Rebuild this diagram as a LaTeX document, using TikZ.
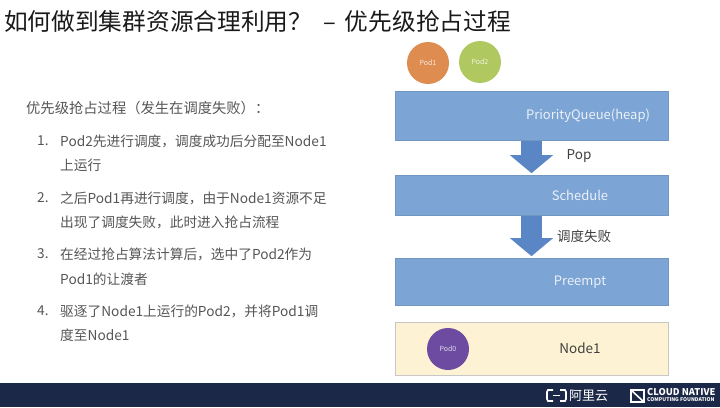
\documentclass[tikz,border=0pt]{standalone}
\usepackage{fontspec}
\setmainfont{Noto Sans CJK SC}
\usetikzlibrary{arrows.meta}
\definecolor{barblue}{HTML}{7CA4D4}
\definecolor{arrowblue}{HTML}{5B86C6}
\definecolor{podorange}{HTML}{DE8C4F}
\definecolor{podgreen}{HTML}{B0C860}
\definecolor{podpurple}{HTML}{6C4BA0}
\definecolor{nodecream}{HTML}{FDF2D3}
\definecolor{footnavy}{HTML}{1B2847}
\definecolor{bodygray}{HTML}{555555}
\tikzset{
    bar/.style={rectangle, draw=barblue!92!black, fill=barblue, line width=0.6pt, minimum width=273pt, inner sep=0pt},
    barlabel/.style={text=white!85!barblue, font=\fontsize{13}{13}\selectfont},
    pod/.style={circle, minimum size=42pt, inner sep=0pt, text=white!80!#1, fill=#1, font=\fontsize{7}{7}\selectfont},
    flow/.style={-{Triangle[length=18pt,width=42pt]}, line width=21pt, arrowblue, shorten >=1.5pt, shorten <=1pt},
    body/.style={anchor=west, inner sep=0pt, text=bodygray, font=\fontsize{13.7}{14}\selectfont},
    steplabel/.style={inner sep=0pt, text=black!75, font=\fontsize{13.5}{14}\selectfont},
}
\begin{document}
\begin{tikzpicture}[x=1pt, y=-1pt]
    \useasboundingbox (0,0) rectangle (720,407);
    \node [anchor=west, inner sep=0pt, text=black!90, font=\fontsize{23.7}{24}\selectfont] (title) at (4,21) {如何做到集群资源合理利用？\hspace{11pt}–\hspace{9pt}优先级抢占过程};

    % left text
    \node [body, font=\fontsize{14.3}{14}\selectfont] (intro) at (26,108) {优先级抢占过程（发生在调度失败）：};
    \node [body] (num1) at (37,141) {1.};
    \node [body] (item1a) at (60,141) {Pod2先进行调度，调度成功后分配至Node1};
    \node [body] (item1b) at (60,165) {上运行};
    \node [body] (num2) at (37,198) {2.};
    \node [body] (item2a) at (60,198) {之后Pod1再进行调度，由于Node1资源不足};
    \node [body] (item2b) at (60,222) {出现了调度失败，此时进入抢占流程};
    \node [body] (num3) at (37,254) {3.};
    \node [body] (item3a) at (60,254) {在经过抢占算法计算后，选中了Pod2作为};
    \node [body] (item3b) at (60,279) {Pod1的让渡者};
    \node [body] (num4) at (37,311) {4.};
    \node [body] (item4a) at (60,311) {驱逐了Node1上运行的Pod2，并将Pod1调};
    \node [body] (item4b) at (60,335) {度至Node1};

    % right side
    \node [pod=podorange] (pod1) at (428,63) {Pod1};
    \node [pod=podgreen] (pod2) at (480,62) {Pod2};
    \node [bar, minimum height=49pt] (queue) at (531.5,115.5) {};
    \node [bar, minimum height=40pt] (schedule) at (531.5,195) {};
    \node [bar, minimum height=47pt] (preempt) at (531.5,281.5) {};
    \node [bar, fill=nodecream, draw=black!22, minimum height=53pt] (node1) at (531.5,348.5) {};
    \node [barlabel] (queuetext) at (588,116) {PriorityQueue(heap)};
    \node [barlabel] (scheduletext) at (580,195) {Schedule};
    \node [barlabel] (preempttext) at (580,282) {Preempt};
    \node [pod=podpurple] (pod0) at (448,349) {Pod0};
    \node [steplabel] (nodetext) at (580,348) {Node1};
    \draw [flow] (queue.south) -- (schedule.north);
    \draw [flow] (schedule.south) -- (preempt.north);
    \node [steplabel] (pop) at (579,156) {Pop};
    \node [steplabel] (fail) at (584,236) {调度失败};

    % footer
    \node [rectangle, fill=footnavy, minimum width=720pt, minimum height=24pt, inner sep=0pt, anchor=north west] (footer) at (0,383) {};
    \draw [white, line width=1.6pt] (553,390) -- (548,390) -- (547,392) -- (547,399) -- (548,401) -- (553,401);
    \draw [white, line width=1.6pt] (560,390) -- (565,390) -- (566,392) -- (566,399) -- (565,401) -- (560,401);
    \draw [white, line width=1.4pt] (553,395.5) -- (560,395.5);
    \node [anchor=west, inner sep=0pt, text=white, font=\fontsize{13}{14}\selectfont] (aliyun) at (569,395.5) {阿里云};
    \draw [white, line width=1.2pt] (631,390) rectangle (644,402);
    \draw [white, line width=1.6pt] (631,390) -- (644,402);
    \node [anchor=west, inner sep=0pt, text=white, font=\fontsize{9.3}{10}\selectfont\bfseries] (cloud) at (647,392) {CLOUD NATIVE};
    \node [anchor=west, inner sep=0pt, text=white, font=\fontsize{5.1}{6}\selectfont\bfseries] (cncf) at (647,400) {COMPUTING FOUNDATION};
\end{tikzpicture}
\end{document}
